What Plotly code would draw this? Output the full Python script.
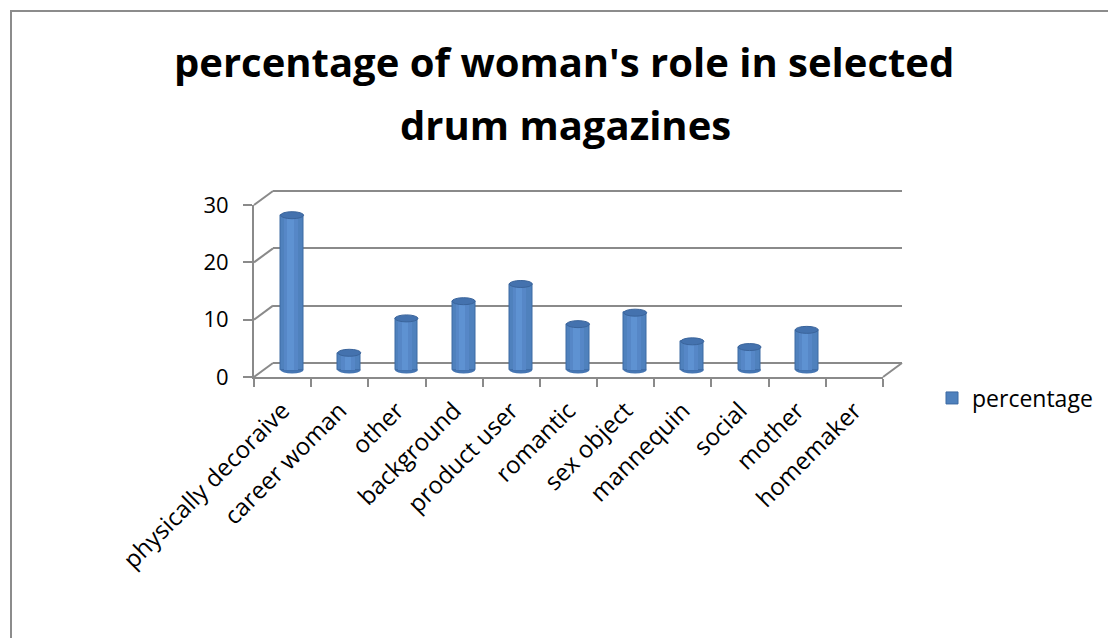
import plotly.graph_objects as go

categories = ["physically decoraive", "career woman", "other", "background",
              "product user", "romantic", "sex object", "mannequin", "social",
              "mother", "homemaker"]
values = [27, 3, 9, 12, 15, 8, 10, 5, 4, 7, 0]
y_ticks = [0, 10, 20, 30]
series_name = "percentage"
title_lines = ["percentage of woman's role in selected", "drum magazines"]

W, H = 1108, 638
FONT = "Open Sans"
GRID = "#8a8a8a"
BLUE = "#4F81BD"


def px(x):
    return x / W


def py(y):
    return 1 - y / H


# front frame in pixels
FX0, FX1 = 254, 883
FY0 = 377           # value 0 on front
PXU = 172 / 30      # pixels per unit
DX, DY = 19, 14     # depth offset of the back wall


def ydomain(dy, r0, r1):
    base = FY0 - dy
    bottom = base - r0 * PXU
    top = base - r1 * PXU
    return [py(bottom), py(top)]


fig = go.Figure()

# invisible trace to create the back-wall subplot
fig.add_trace(go.Scatter(x=[0, 10], y=[0, 0], mode="markers", marker=dict(opacity=0),
                         xaxis="x", yaxis="y", showlegend=False, hoverinfo="skip"))

line_w = [1 if v > 0 else 0 for v in values]
# bars (subplot x2/y2, half depth)
fig.add_trace(go.Bar(x=categories, y=values, name=series_name, width=0.40,
                     marker=dict(color=BLUE, line=dict(color="#3D6AA3", width=line_w)),
                     xaxis="x2", yaxis="y2", showlegend=True, hoverinfo="x+y"))
fig.add_trace(go.Bar(x=categories, y=values, width=0.24, offset=-0.15,
                     marker=dict(color="#5687C7", line=dict(width=0)),
                     xaxis="x2", yaxis="y2", showlegend=False, hoverinfo="skip"))
fig.add_trace(go.Bar(x=categories, y=values, width=0.11, offset=-0.09,
                     marker=dict(color="#5E92D2", line=dict(width=0)),
                     xaxis="x2", yaxis="y2", showlegend=False, hoverinfo="skip"))
# invisible trace for front category axis
fig.add_trace(go.Scatter(x=categories, y=values, mode="markers",
                         marker=dict(opacity=0), xaxis="x3", yaxis="y3",
                         showlegend=False, hoverinfo="skip"))

shapes = []
for c, v in zip(categories, values):
    if v <= 0:
        continue
    shapes.append(dict(type="circle", xref="x2", yref="y2", xsizemode="pixel",
                       ysizemode="pixel", xanchor=c, yanchor=0,
                       x0=-11.5, x1=11.5, y0=-3.5, y1=3.5, layer="below",
                       fillcolor="#4676B3", line=dict(width=0)))
    shapes.append(dict(type="circle", xref="x2", yref="y2", xsizemode="pixel",
                       ysizemode="pixel", xanchor=c, yanchor=v,
                       x0=-11.5, x1=11.5, y0=-3.5, y1=3.5, layer="above",
                       fillcolor="#4472AE", line=dict(color="#3A649B", width=1)))

for t in y_ticks:
    yf = FY0 - t * PXU
    shapes.append(dict(type="line", xref="paper", yref="paper",
                       x0=px(FX0), y0=py(yf), x1=px(FX0 + DX), y1=py(yf - DY),
                       line=dict(color=GRID, width=2)))
shapes.append(dict(type="line", xref="paper", yref="paper",
                   x0=px(FX1), y0=py(FY0), x1=px(FX1 + DX), y1=py(FY0 - DY),
                   line=dict(color=GRID, width=2)))
shapes.append(dict(type="rect", xref="paper", yref="paper",
                   x0=px(11), y0=py(11), x1=px(W + 20), y1=py(H + 20),
                   line=dict(color="#8c8c8c", width=2), fillcolor="rgba(0,0,0,0)"))

annotations = [
    dict(text=f"<b>{title_lines[0]}</b>", x=px(564), y=py(62), xref="paper", yref="paper",
         showarrow=False, xanchor="center", yanchor="middle",
         font=dict(family=FONT, size=40, color="black")),
    dict(text=f"<b>{title_lines[1]}</b>", x=px(565), y=py(125), xref="paper", yref="paper",
         showarrow=False, xanchor="center", yanchor="middle",
         font=dict(family=FONT, size=40, color="black")),
]

XF = dict(size=24, family=FONT, color="black")
YF = dict(size=22, family=FONT, color="black")
LF = dict(size=23, family=FONT, color="black")

fig.update_layout(
    template="none",
    width=W, height=H, autosize=False,
    margin=dict(l=0, r=0, t=0, b=0, pad=0, autoexpand=False),
    paper_bgcolor="white", plot_bgcolor="rgba(0,0,0,0)",
    barmode="overlay", bargap=0,
    font=dict(family=FONT, size=20, color="black"),
    shapes=shapes, annotations=annotations,
    showlegend=True,
    legend=dict(x=px(932), y=py(398), xanchor="left", yanchor="middle",
                font=LF, bgcolor="rgba(0,0,0,0)", borderwidth=0),
    xaxis=dict(domain=[px(FX0 + DX), px(FX1 + DX)], range=[-0.5, 10.5],
               visible=False, anchor="y", fixedrange=True, automargin=False,
               showgrid=False, zeroline=False),
    yaxis=dict(domain=ydomain(DY, -0.5, 30.5), range=[-0.5, 30.5], anchor="x",
               showgrid=True, gridcolor=GRID, gridwidth=2, tickvals=y_ticks,
               showticklabels=False, ticks="", zeroline=True, zerolinecolor=GRID,
               zerolinewidth=2, showline=False, fixedrange=True, automargin=False),
    xaxis2=dict(domain=[px(FX0 + DX / 2), px(FX1 + DX / 2)], range=[-0.5, 10.5],
                type="category", categoryorder="array", categoryarray=categories,
                visible=False, anchor="y2", fixedrange=True, automargin=False),
    yaxis2=dict(domain=ydomain(DY / 2, -1, 31), range=[-1, 31], anchor="x2",
                visible=False, showgrid=False, zeroline=False, fixedrange=True,
                automargin=False),
    xaxis3=dict(domain=[px(FX0), px(FX1)], range=[-0.5, 10.5], anchor="y3",
                type="category", categoryorder="array", categoryarray=categories,
                showline=True, linecolor=GRID, linewidth=2, ticks="outside",
                tickson="boundaries", ticklen=8, tickcolor=GRID, tickwidth=2,
                tickangle=-45, showgrid=False, zeroline=False, tickfont=XF,
                ticklabelstandoff=8,
                fixedrange=True, automargin=False),
    yaxis3=dict(domain=ydomain(0, 0, 30), range=[0, 30], anchor="x3",
                showline=True, linecolor=GRID, linewidth=2, ticks="outside",
                ticklen=9, tickcolor=GRID, tickwidth=2, tickvals=y_ticks,
                showgrid=False, zeroline=False, ticklabelstandoff=10,
                tickfont=YF, fixedrange=True, automargin=False),
)

fig.write_html("out.html")
